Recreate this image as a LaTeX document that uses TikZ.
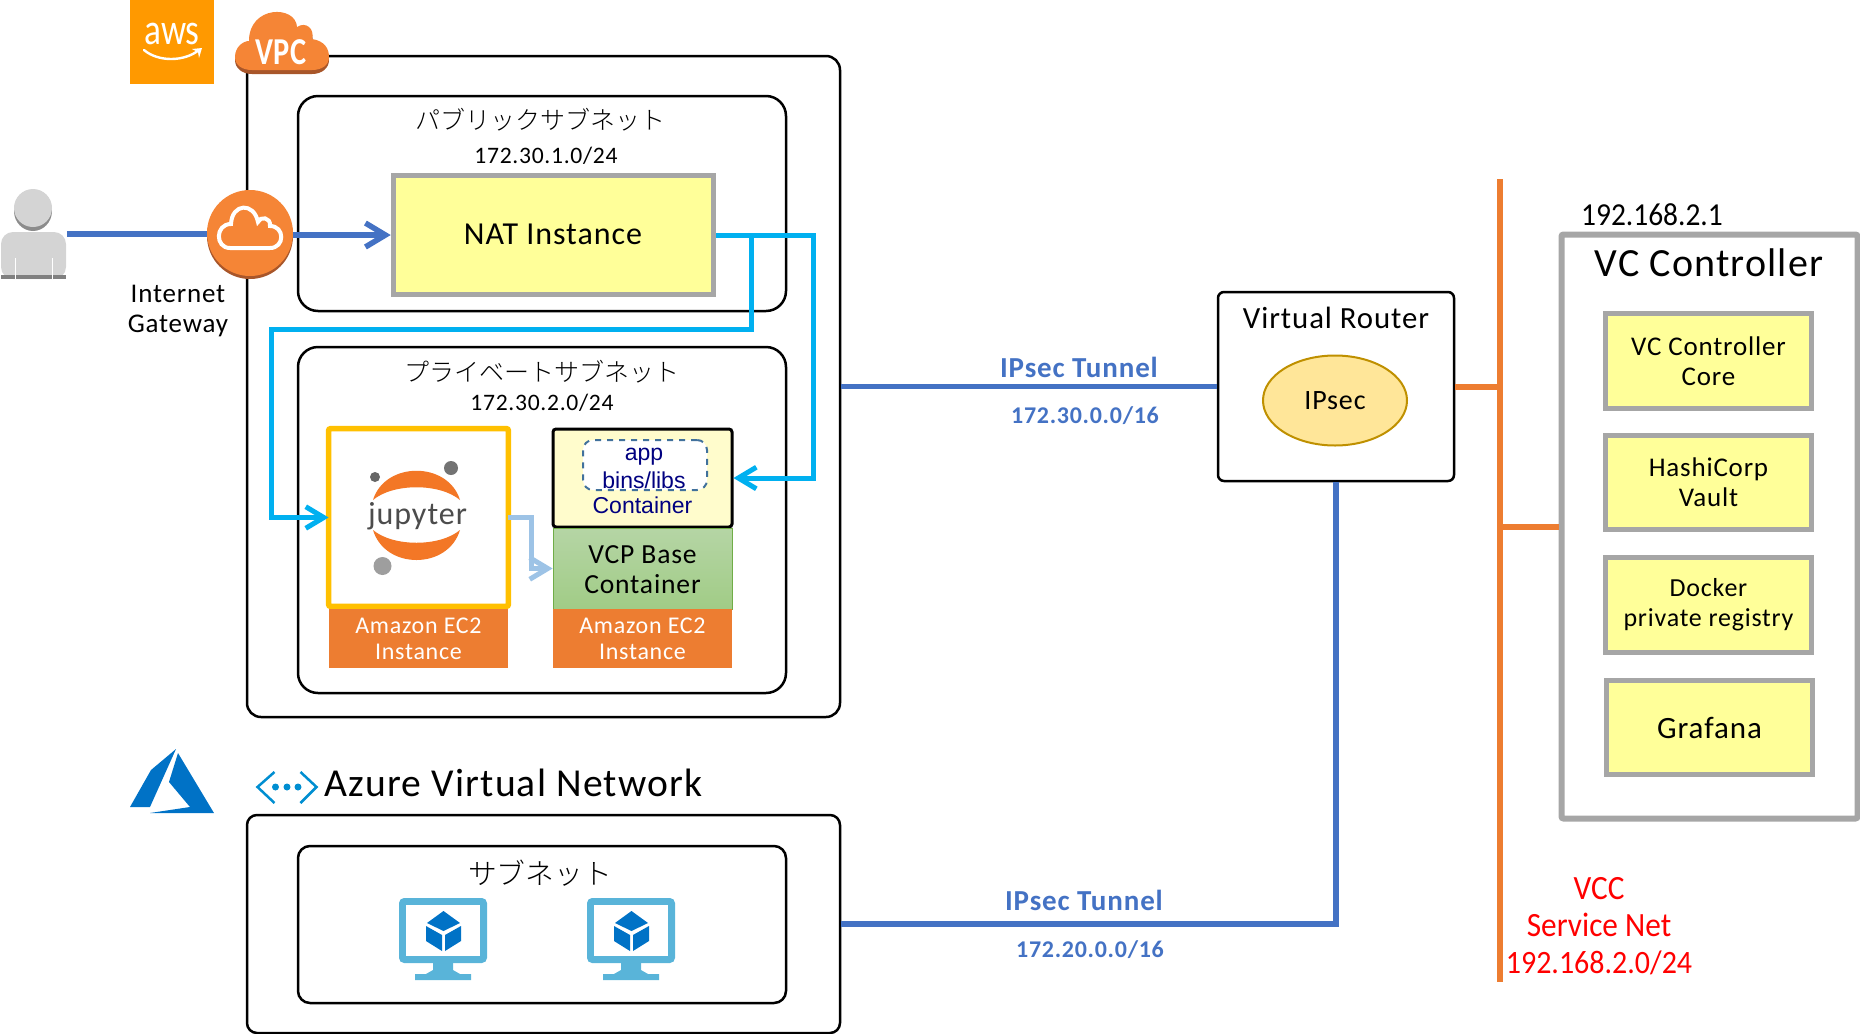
\documentclass[tikz,border=0pt]{standalone}
\usepackage{fontspec}
\setmainfont{Carlito}[LetterSpace=3]
\newfontfamily\jpfont{Noto Sans CJK JP Light}
\newfontfamily\arialfont{Liberation Sans}
\newfontfamily\narrowfont{Carlito}[FakeStretch=0.92]
\newfontfamily\condfont{Carlito}[FakeStretch=0.8]
\usetikzlibrary{arrows.meta,positioning,shapes.geometric}
\definecolor{awsorange}{HTML}{FF9900}
\definecolor{cloudorange}{HTML}{F58536}
\definecolor{clouddark}{HTML}{A8562A}
\definecolor{linkblue}{HTML}{4472C4}
\definecolor{linkcyan}{HTML}{00B0F0}
\definecolor{linkpale}{HTML}{9DC3E6}
\definecolor{busorange}{HTML}{ED7D31}
\definecolor{boxgray}{HTML}{A6A6A6}
\definecolor{boxyellow}{HTML}{FFFF99}
\definecolor{azureblue}{HTML}{0072C6}
\definecolor{screenblue}{HTML}{59B4D9}
\definecolor{jupyteredge}{HTML}{FFC000}
\definecolor{jupyterarc}{HTML}{F37726}
\definecolor{dashblue}{HTML}{41719C}
\definecolor{navytext}{HTML}{000080}
\definecolor{basetop}{HTML}{B5D5A5}
\definecolor{basebottom}{HTML}{A1CC86}
\definecolor{baseedge}{HTML}{70AD47}
\definecolor{ipsecfill}{HTML}{FFE699}
\definecolor{ipsecedge}{HTML}{BF9000}
\newcommand{\px}[2]{\fontsize{#1}{#2}\selectfont}
\tikzset{
	areabox/.style = {draw,line width=1.25pt,rounded corners=#1,inner sep=0pt},
	yellowbox/.style = {draw=boxgray,fill=boxyellow,line width=2.75pt,inner sep=0pt,align=center},
	ec2box/.style = {fill=busorange,text=white,inner sep=0pt,align=center,minimum width=89.5pt,minimum height=29.5pt,font={\px{12}{13}}},
	tip/.style = {-{Straight Barb[length=#1,width=1.2*#1]}},
	bluelink/.style = {draw=linkblue,line width=2.75pt},
	cyanlink/.style = {draw=linkcyan,line width=2.5pt},
	palelink/.style = {draw=linkpale,line width=2.5pt},
	buslink/.style = {draw=busorange,line width=3pt},
	tunnellabel/.style = {text=linkblue,font={\px{14.5}{16}\bfseries}},
	addrlabel/.style = {text=linkblue,font={\px{12}{14}\bfseries}},
	vmicon/.pic = {
		\fill [screenblue,rounded corners=2.5pt] (-44,0) rectangle (44,65);
		\fill [white] (-37,7) rectangle (37,58);
		\fill [screenblue] (-10,65) -- (-10,72) -- (-17,76) -- (-28,76) -- (-28,82) -- (28,82) -- (28,76) -- (17,76) -- (10,72) -- (10,65) -- cycle;
		\fill [azureblue] (0.5,13) -- (17,25) -- (0.5,33) -- (-16,25) -- cycle;
		\fill [azureblue] (-17,28) -- (-1,37) -- (-1,53) -- (-17,43) -- cycle;
		\fill [azureblue] (18,28) -- (2,37) -- (2,53) -- (18,43) -- cycle;
	}
}
\begin{document}
\begin{tikzpicture}[x=0.5pt,y=-0.5pt]
	\useasboundingbox (0,0) rectangle (1860,1034);
	% aws side
	\node (aws) at (172,42) [fill=awsorange,minimum width=42pt,minimum height=42pt,inner sep=0pt] {};
	\node (awstext) at (172,34) [text=white,font={\px{22}{22}\condfont}] {aws};
	\path [draw=white,line width=1.2pt,line cap=round] (144,50) .. controls (158,62) and (184,62) .. (199,50);
	\path [fill=white] (192,49) -- (202,48) -- (199,58) -- (198,52) -- cycle;
	\node (vpc) at (543.5,386.5) [areabox=7pt,minimum width=296.5pt,minimum height=330.5pt] {};
	\path [fill=clouddark] (235,60) .. controls (235,50) and (243,44) .. (249,44) .. controls (249,8) and (296,8) .. (297,30) .. controls (306,24) and (315,32) .. (312,42) .. controls (325,44) and (329,52) .. (329,60) .. controls (329,68) and (322,74) .. (312,74) -- (252,74) .. controls (242,74) and (235,68) .. (235,60) -- cycle;
	\path [fill=cloudorange] (235,57) .. controls (235,47) and (243,41) .. (249,41) .. controls (249,5) and (296,5) .. (297,27) .. controls (306,21) and (315,29) .. (312,39) .. controls (325,41) and (329,49) .. (329,57) .. controls (329,65) and (322,70) .. (312,70) -- (252,70) .. controls (242,70) and (235,65) .. (235,57) -- cycle;
	\node (vpctext) at (281,52) [text=white,font={\px{19}{19}\condfont\bfseries}] {VPC};
	\node (public) at (542,203.5) [areabox=10pt,minimum width=244pt,minimum height=107.5pt] {};
	\node (publictext) at (540,120) [font={\px{12.5}{12.5}\jpfont}] {パブリックサブネット};
	\node (publicaddr) at (546,156) [font={\px{11.8}{12}}] {172.30.1.0/24};
	\node (nat) at (553.5,235) [yellowbox,minimum width=160pt,minimum height=59.5pt] {};
	\node (nattext) at (553,234) [font={\px{16}{16}}] {NAT Instance};
	% person and gateway
	\node (person) at (33.5,234) [minimum width=33pt,minimum height=45pt,inner sep=0pt] {};
	\path [fill=black!45] (33,211) ellipse [x radius=19,y radius=20];
	\path [fill=black!17] (33,208) ellipse [x radius=19,y radius=19];
	\path [fill=black!17,rounded corners=6pt] (1,279) -- (1,232) -- (66,232) -- (66,279) -- cycle;
	\path [fill=black!50] (1,275) rectangle (66,279);
	\path [draw=white,line width=0.5pt] (15,258) -- (15,279) (52,258) -- (52,279);
	\path [fill=clouddark] (250,236) circle [radius=43];
	\node (gateway) at (250,233) [circle,fill=cloudorange,minimum size=43pt,inner sep=0pt] {};
	\path [bluelink] (person.east) -- (person.east -| gateway.west);
	\path [draw=white,line width=2pt] (230,248) -- (270,248) .. controls (285,248) and (285,226) .. (270,226) .. controls (271,217) and (260,216) .. (258,222) .. controls (254,202) and (232,203) .. (231,224) .. controls (215,224) and (215,248) .. (230,248) -- cycle;
	\path [bluelink,tip=10pt] (gateway.east |- nat.west) -- (nat.west);
	\node (gatewaytext) at (178,311) [align=center,font={\px{13.5}{15}}] {Internet\\Gateway};
	% private subnet
	\node (private) at (542,520) [areabox=10pt,minimum width=244pt,minimum height=173pt] {};
	\node (privatetext) at (542,372) [font={\px{12.5}{12.5}\jpfont}] {プライベートサブネット};
	\node (privateaddr) at (542,403) [font={\px{11.8}{12}}] {172.30.2.0/24};
	\node (jupyter) at (418.5,517.5) [fill=white,minimum width=89.5pt,minimum height=88.5pt,inner sep=0pt] {};
	\path [draw=jupyteredge,line width=2.75pt,rounded corners=1pt] (jupyter.north west) rectangle (jupyter.south east);
	\path [fill=jupyterarc] (373,500) .. controls (385,461) and (448,461) .. (460,500) .. controls (440,483) and (393,483) .. (373,500) -- cycle;
	\path [fill=jupyterarc] (373,530) .. controls (385,570) and (448,570) .. (460,530) .. controls (440,547) and (393,547) .. (373,530) -- cycle;
	\path [fill=black!55] (451,468) circle [radius=7];
	\path [fill=black!60] (375,477) circle [radius=5];
	\path [fill=black!38] (382.5,566) circle [radius=9];
	\node (jupytertext) at (417.5,516) [text=black!70,font={\px{16}{16}}] {jupyter};
	\node (ec2left) at (418.5,638.5) [ec2box] {Amazon EC2\\Instance};
	\node (container) at (642.5,478) [draw,fill=yellow!20,line width=1.5pt,rounded corners=1.5pt,minimum width=89.5pt,minimum height=49pt,inner sep=0pt] {};
	\node (bins) at (645,465) [draw=dashblue,dashed,fill=white,line width=1pt,rounded corners=5pt,minimum width=62pt,minimum height=25pt,inner sep=0pt] {};
	\node (binstext) at (644,468.5) [align=center,text=navytext,font={\px{11.5}{14}\arialfont}] {app\\bins/libs};
	\node (containertext) at (642.5,505) [text=navytext,font={\px{11.5}{12}\arialfont}] {Container};
	\node (base) at (642.5,568.5) [draw=baseedge,top color=basetop,bottom color=basebottom,minimum width=89.5pt,minimum height=40.5pt,inner sep=0pt] {};
	\node (basetext) at (642.5,569.5) [align=center,font={\px{13.8}{15}}] {VCP Base\\Container};
	\node (ec2right) at (642.5,638.5) [ec2box] {Amazon EC2\\Instance};
	\coordinate (natdrop) at (813,356);
	\coordinate (natbranch) at (751,329);
	\coordinate (natleft) at (271.5,329);
	\coordinate (paleturn) at (531,540);
	\path [cyanlink,tip=9pt] (nat.east) -| (natdrop) |- (container.east);
	\path [cyanlink,tip=9pt] (nat.east) -| (natbranch) -- (natleft) |- (jupyter.west);
	\path [palelink,tip=9pt] (jupyter.east) -| (paleturn) |- (base.west);
	% azure side
	\path [fill=azureblue] (176,749) -- (151,770) -- (130,807) -- (150,807) -- cycle;
	\path [fill=azureblue] (178,753) -- (214,813) -- (150,813) -- (190,807) -- (169,782) -- cycle;
	\path [draw=azureblue!80!cyan,line width=1.25pt] (274.5,772) -- (257.5,787) -- (274.5,803) (300.5,772) -- (316.5,787) -- (300.5,803);
	\path [fill=azureblue!80!cyan] (275.5,787) circle [radius=3.5] (287,787) circle [radius=3.5] (298,787) circle [radius=3.5];
	\node (azuretext) at (513.5,783) [font={\px{19.8}{20}}] {Azure Virtual Network};
	\node (azurenet) at (543.5,924) [areabox=5pt,minimum width=296.5pt,minimum height=109pt] {};
	\node (azuresub) at (542,924.5) [areabox=6pt,minimum width=244pt,minimum height=78.5pt] {};
	\node (azuresubtext) at (540,873) [font={\px{14.4}{14}\jpfont}] {サブネット};
	\pic at (443,898) {vmicon};
	\pic at (631,898) {vmicon};
	% router and tunnels
	\node (router) at (1336,386.5) [areabox=3pt,minimum width=118pt,minimum height=94.5pt] {};
	\node (routertext) at (1336,318) [font={\px{15.4}{15}}] {Virtual Router};
	\node (ipsec) at (1335,400.5) [ellipse,draw=ipsecedge,fill=ipsecfill,line width=1pt,minimum width=72pt,minimum height=45pt,inner sep=0pt,font={\px{14}{14}}] {IPsec};
	\path [bluelink] (router.west -| vpc.east) -- (router.west);
	\path [bluelink] (azurenet.east) -| (router.south);
	\node (tunneltop) at (1079,367) [tunnellabel] {IPsec Tunnel};
	\node (addrtop) at (1085,416) [addrlabel] {172.30.0.0/16};
	\node (tunnelbottom) at (1084,900) [tunnellabel] {IPsec Tunnel};
	\node (addrbottom) at (1090,950) [addrlabel] {172.20.0.0/16};
	% vc controller
	\coordinate (bustop) at (1500,179);
	\coordinate (busbottom) at (1500,982);
	\node (vcc) at (1709.5,526.5) [draw=boxgray,line width=3pt,rounded corners=1pt,minimum width=148pt,minimum height=292pt,inner sep=0pt] {};
	\path [buslink] (bustop) -- (busbottom);
	\path [buslink] (router.east) -- (router.east -| bustop);
	\path [buslink] (vcc.west -| bustop) -- (vcc.west);
	\node (vccaddr) at (1652,215) [font={\px{16}{16}\narrowfont}] {192.168.2.1};
	\node (vcctext) at (1709,263) [font={\px{20}{20}}] {VC Controller};
	\node (core) at (1708.5,361) [yellowbox,minimum width=103pt,minimum height=47.5pt,font={\px{13.5}{15}}] {VC Controller\\Core};
	\node (vault) at (1708.5,482.5) [yellowbox,minimum width=103pt,minimum height=47pt,font={\px{13.5}{15}}] {HashiCorp\\Vault};
	\node (registry) at (1708.5,605) [yellowbox,minimum width=103pt,minimum height=47.5pt,font={\px{13}{15}}] {Docker\\private registry};
	\node (grafana) at (1709.5,727.5) [yellowbox,minimum width=103pt,minimum height=47pt,font={\px{15.5}{15}}] {Grafana};
	\node (servicenet) at (1599,926) [align=center,text=red,font={\px{17}{18.5}\narrowfont}] {VCC\\Service Net\\{\px{16.3}{18.5}192.168.2.0/24}};
\end{tikzpicture}
\end{document}
